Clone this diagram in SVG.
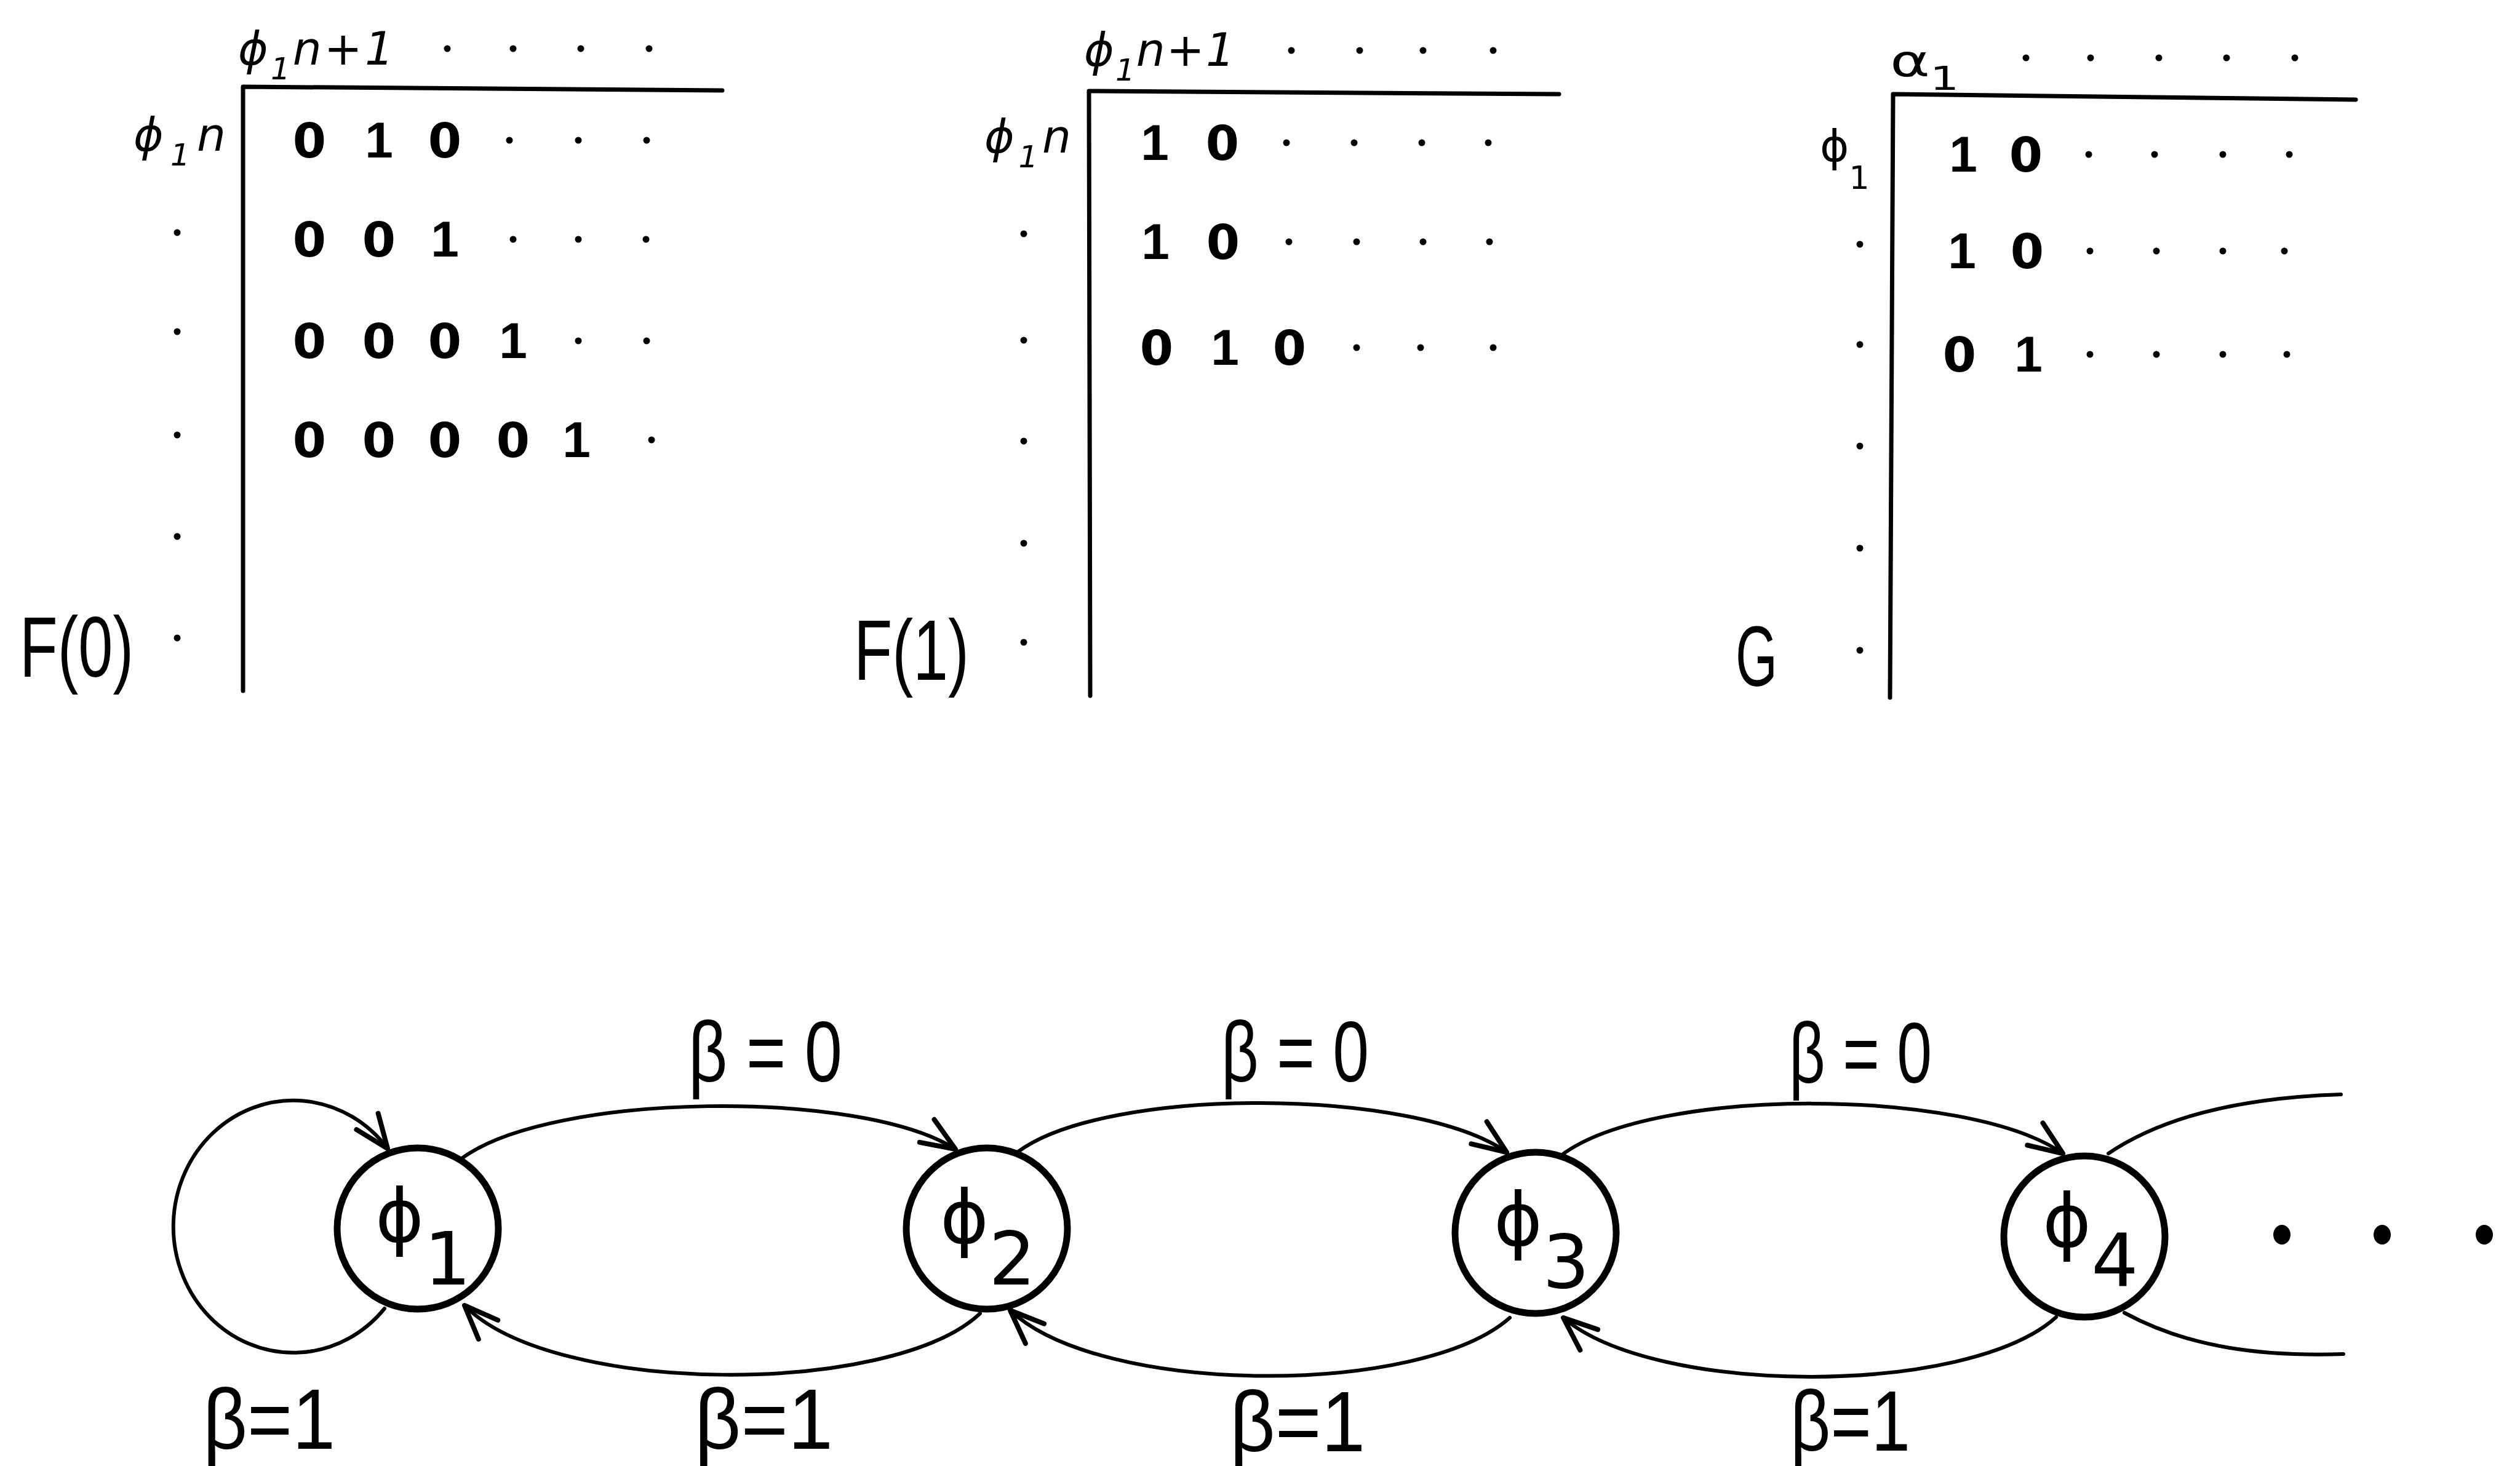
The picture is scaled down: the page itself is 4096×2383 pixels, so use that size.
<svg xmlns="http://www.w3.org/2000/svg" width="4096" height="2383" viewBox="0 0 4096 2383">
<style>
.bg{fill:#fff}
.ln{stroke:#000;fill:none;stroke-width:7;stroke-linecap:round;stroke-linejoin:round}
.dot{fill:#000}
.z{font-family:"DejaVu Sans",sans-serif;font-weight:bold;font-size:78px;text-anchor:middle;fill:#000}
.o{font-family:"Liberation Sans",sans-serif;font-weight:bold;font-size:82px;text-anchor:middle;fill:#000}
.hd{font-family:"DejaVu Sans",sans-serif;font-style:italic;font-size:74px;fill:#000}
.gr{font-family:"DejaVu Sans",sans-serif;font-size:72px;fill:#000}
.big{font-family:"Liberation Sans",sans-serif;font-size:140px;fill:#000}
.node{fill:none;stroke:#000;stroke-width:11}
.nl{font-family:"DejaVu Sans",sans-serif;font-size:120px;fill:#000}
.edge{fill:none;stroke:#000;stroke-width:6;stroke-linecap:round}
.el{font-family:"Liberation Sans",sans-serif;font-size:140px;fill:#000}
.ell{fill:#000}
</style>
<defs>
<marker id="ah" markerUnits="userSpaceOnUse" viewBox="-70 -40 80 80" markerWidth="80" markerHeight="80" refX="0" refY="0" orient="auto" overflow="visible">
<path d="M -55 -22 L 0 0 L -55 22" fill="none" stroke="#000" stroke-width="8" stroke-linecap="round" stroke-linejoin="round"/>
</marker>
</defs>
<rect class="bg" x="0" y="0" width="4096" height="2383"/>

<g id="table-F0">
<path class="ln" d="M 1174 147 L 395 141 L 395 1123"/>
<text class="hd" x="387" y="105" textLength="253" lengthAdjust="spacing">ϕ<tspan font-size="50" dy="24">1</tspan><tspan dy="-24">n+1</tspan></text>
<g class="dot"><circle cx="727" cy="79" r="5.5"/><circle cx="834" cy="79" r="5.5"/><circle cx="944" cy="79" r="5.5"/><circle cx="1055" cy="79" r="5.5"/></g>
<text class="hd" x="367" y="245" text-anchor="end" textLength="150" lengthAdjust="spacing">ϕ<tspan font-size="50" dy="24">1</tspan><tspan dy="-24">n</tspan></text>
<g class="dot"><circle cx="288" cy="378" r="5.5"/><circle cx="288" cy="539" r="5.5"/><circle cx="288" cy="707" r="5.5"/><circle cx="288" cy="872" r="5.5"/><circle cx="288" cy="1037" r="5.5"/></g>
<text class="z" x="503" y="256">0</text><text class="o" x="616" y="256">1</text><text class="z" x="723" y="256">0</text>
<g class="dot"><circle cx="828" cy="228" r="5.5"/><circle cx="940" cy="228" r="5.5"/><circle cx="1051" cy="228" r="5.5"/></g>
<text class="z" x="503" y="417">0</text><text class="z" x="616" y="417">0</text><text class="o" x="723" y="417">1</text>
<g class="dot"><circle cx="834" cy="389" r="5.5"/><circle cx="940" cy="389" r="5.5"/><circle cx="1050" cy="389" r="5.5"/></g>
<text class="z" x="503" y="582">0</text><text class="z" x="616" y="582">0</text><text class="z" x="723" y="582">0</text><text class="o" x="834" y="582">1</text>
<g class="dot"><circle cx="940" cy="554" r="5.5"/><circle cx="1051" cy="554" r="5.5"/></g>
<text class="z" x="503" y="743">0</text><text class="z" x="616" y="743">0</text><text class="z" x="723" y="743">0</text><text class="z" x="834" y="743">0</text><text class="o" x="937" y="743">1</text>
<g class="dot"><circle cx="1059" cy="715" r="5.5"/></g>
<text class="big" x="32" y="1100" textLength="185" lengthAdjust="spacingAndGlyphs">F(0)</text>
</g>

<g id="table-F1">
<path class="ln" d="M 2534 153 L 1770 148 L 1772 1131"/>
<text class="hd" x="1762" y="107" textLength="245" lengthAdjust="spacing">ϕ<tspan font-size="50" dy="24">1</tspan><tspan dy="-24">n+1</tspan></text>
<g class="dot"><circle cx="2099" cy="82" r="5.5"/><circle cx="2210" cy="82" r="5.5"/><circle cx="2313" cy="82" r="5.5"/><circle cx="2427" cy="82" r="5.5"/></g>
<text class="hd" x="1741" y="248" text-anchor="end" textLength="141" lengthAdjust="spacing">ϕ<tspan font-size="50" dy="24">1</tspan><tspan dy="-24">n</tspan></text>
<g class="dot"><circle cx="1664" cy="380" r="5.5"/><circle cx="1664" cy="553" r="5.5"/><circle cx="1664" cy="717" r="5.5"/><circle cx="1664" cy="883" r="5.5"/><circle cx="1664" cy="1044" r="5.5"/></g>
<text class="o" x="1877" y="260">1</text><text class="z" x="1987" y="260">0</text>
<g class="dot"><circle cx="2091" cy="232" r="5.5"/><circle cx="2201" cy="232" r="5.5"/><circle cx="2311" cy="232" r="5.5"/><circle cx="2419" cy="232" r="5.5"/></g>
<text class="o" x="1878" y="421">1</text><text class="z" x="1988" y="421">0</text>
<g class="dot"><circle cx="2095" cy="393" r="5.5"/><circle cx="2205" cy="393" r="5.5"/><circle cx="2313" cy="393" r="5.5"/><circle cx="2421" cy="393" r="5.5"/></g>
<text class="z" x="1880" y="593">0</text><text class="o" x="1991" y="593">1</text><text class="z" x="2096" y="593">0</text>
<g class="dot"><circle cx="2205" cy="565" r="5.5"/><circle cx="2309" cy="565" r="5.5"/><circle cx="2427" cy="565" r="5.5"/></g>
<text class="big" x="1388" y="1105" textLength="187" lengthAdjust="spacingAndGlyphs">F(1)</text>
</g>

<g id="table-G">
<path class="ln" d="M 3829 162 L 3077 153 L 3072 1134"/>
<text class="gr" x="3072" y="124" font-size="88" textLength="112" lengthAdjust="spacingAndGlyphs">α<tspan font-size="54" dy="22">1</tspan></text>
<g class="dot"><circle cx="3293" cy="94" r="5.5"/><circle cx="3398" cy="94" r="5.5"/><circle cx="3509" cy="94" r="5.5"/><circle cx="3619" cy="94" r="5.5"/><circle cx="3730" cy="94" r="5.5"/></g>
<text class="gr" x="2958" y="262" font-size="72">ϕ<tspan font-size="52" dy="45">1</tspan></text>
<g class="dot"><circle cx="3023" cy="397" r="5.5"/><circle cx="3023" cy="560" r="5.5"/><circle cx="3023" cy="725" r="5.5"/><circle cx="3023" cy="891" r="5.5"/><circle cx="3023" cy="1057" r="5.5"/></g>
<text class="o" x="3191" y="279">1</text><text class="z" x="3293" y="279">0</text>
<g class="dot"><circle cx="3395" cy="251" r="5.5"/><circle cx="3502" cy="251" r="5.5"/><circle cx="3613" cy="251" r="5.5"/><circle cx="3721" cy="251" r="5.5"/></g>
<text class="o" x="3189" y="436">1</text><text class="z" x="3295" y="436">0</text>
<g class="dot"><circle cx="3397" cy="408" r="5.5"/><circle cx="3505" cy="408" r="5.5"/><circle cx="3613" cy="408" r="5.5"/><circle cx="3713" cy="408" r="5.5"/></g>
<text class="z" x="3185" y="604">0</text><text class="o" x="3297" y="604">1</text>
<g class="dot"><circle cx="3397" cy="576" r="5.5"/><circle cx="3505" cy="576" r="5.5"/><circle cx="3613" cy="576" r="5.5"/><circle cx="3717" cy="576" r="5.5"/></g>
<text class="big" x="2821" y="1115" textLength="68" lengthAdjust="spacingAndGlyphs">G</text>
</g>

<g id="connectors">
<path class="edge" d="M 625 2127 A 195 205 0 1 1 630 1867" marker-end="url(#ah)"/>
<path class="edge" d="M 752 1882 C 900 1775, 1400 1770, 1553 1868" marker-end="url(#ah)"/>
<path class="edge" d="M 1593 2135 C 1450 2270, 900 2270, 755 2122" marker-end="url(#ah)"/>
<path class="edge" d="M 1655 1872 C 1800 1765, 2300 1768, 2449 1873" marker-end="url(#ah)"/>
<path class="edge" d="M 2454 2142 C 2310 2270, 1790 2270, 1642 2130" marker-end="url(#ah)"/>
<path class="edge" d="M 2539 1877 C 2690 1765, 3200 1768, 3353 1875" marker-end="url(#ah)"/>
<path class="edge" d="M 3342 2141 C 3200 2270, 2690 2270, 2541 2142" marker-end="url(#ah)"/>
<path class="edge" d="M 3427 1875 C 3520 1812, 3650 1784, 3805 1779"/>
<path class="edge" d="M 3453 2134 C 3560 2192, 3680 2205, 3809 2201"/>
<text class="el" x="1119" y="1758" textLength="250" lengthAdjust="spacingAndGlyphs">β = 0</text>
<text class="el" x="1985" y="1758" textLength="240" lengthAdjust="spacingAndGlyphs">β = 0</text>
<text class="el" x="2908" y="1760" textLength="232" lengthAdjust="spacingAndGlyphs">β = 0</text>
<text class="el" x="330" y="2355" textLength="215" lengthAdjust="spacingAndGlyphs">β=1</text>
<text class="el" x="1129" y="2355" textLength="225" lengthAdjust="spacingAndGlyphs">β=1</text>
<text class="el" x="1999" y="2359" textLength="220" lengthAdjust="spacingAndGlyphs">β=1</text>
<text class="el" x="2910" y="2358" textLength="195" lengthAdjust="spacingAndGlyphs">β=1</text>
</g>

<g id="node-phi1">
<circle class="node" cx="679" cy="1997" r="131"/>
<text class="nl" x="610" y="2018">ϕ<tspan font-size="120" dy="70">1</tspan></text>
</g>
<g id="node-phi2">
<circle class="node" cx="1604" cy="1997" r="131"/>
<text class="nl" x="1528" y="2020">ϕ<tspan font-size="120" dy="68">2</tspan></text>
</g>
<g id="node-phi3">
<circle class="node" cx="2496" cy="2004" r="131"/>
<text class="nl" x="2428" y="2024">ϕ<tspan font-size="120" dy="69">3</tspan></text>
</g>
<g id="node-phi4">
<circle class="node" cx="3388" cy="2010" r="131"/>
<text class="nl" x="3320" y="2026">ϕ<tspan font-size="120" dy="65">4</tspan></text>
</g>
<g id="ellipsis" class="ell">
<ellipse cx="3709" cy="2007" rx="14" ry="16"/>
<ellipse cx="3872" cy="2007" rx="14" ry="16"/>
<ellipse cx="4038" cy="2007" rx="14" ry="16"/>
</g>
</svg>
